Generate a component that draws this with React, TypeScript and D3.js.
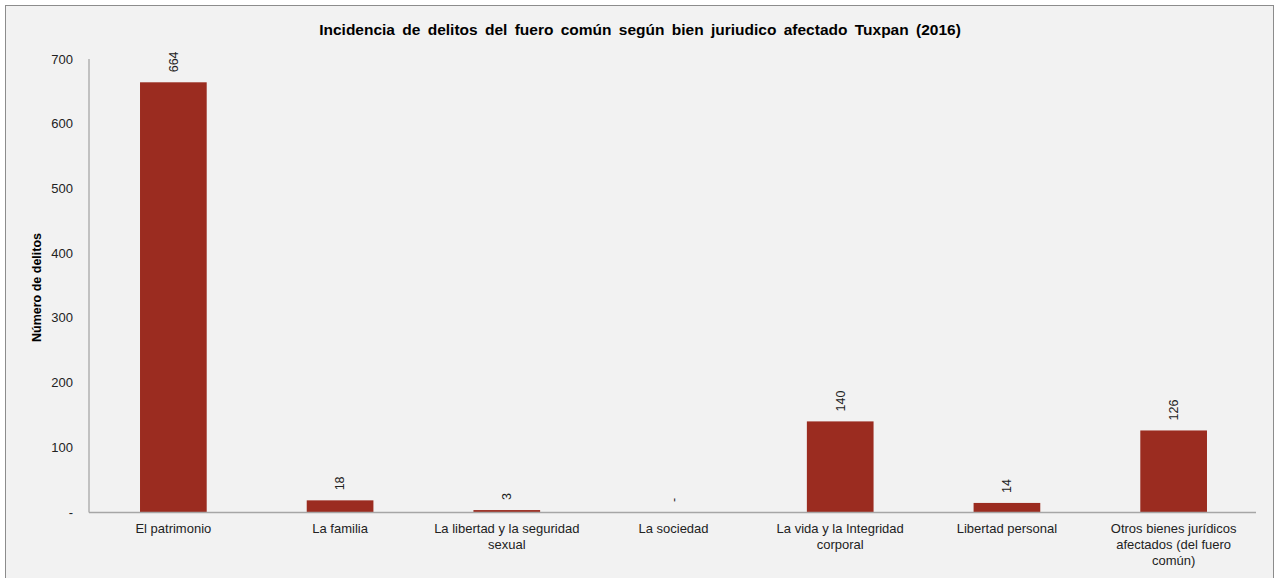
import React, { useEffect, useRef } from "react";
import * as d3 from "d3";

const categories = [
  "El patrimonio",
  "La familia",
  "La libertad y la seguridad sexual",
  "La sociedad",
  "La vida y la Integridad corporal",
  "Libertad personal",
  "Otros bienes jurídicos afectados (del fuero común)",
];
const values = [664, 18, 3, 0, 140, 14, 126];
const yTicks = [0, 100, 200, 300, 400, 500, 600, 700];
const title = "Incidencia de delitos del fuero común según bien juriudico afectado Tuxpan (2016)";
const yTitle = "Número de delitos";

const W = 1276;
const H = 578;
const FONT = "'Liberation Sans', Arial, sans-serif";

export default function App() {
  const ref = useRef<SVGSVGElement>(null);
  useEffect(() => {
    const svg = d3.select(ref.current);
    svg.selectAll("*").remove();
    svg.append("rect").attr("x", 0).attr("y", 0).attr("width", W).attr("height", H).attr("fill", "#ffffff");
    svg.append("rect").attr("x", 5.5).attr("y", 5.5).attr("width", 1268).attr("height", 580)
      .attr("fill", "#f2f2f2").attr("stroke", "#8c8c8c").attr("stroke-width", 1);

    const left = 89, right = 1256, top = 59, bottom = 512;
    const x = d3.scaleBand<string>().domain(categories).range([left, right]).paddingInner(0.6).paddingOuter(0.3);
    const y = d3.scaleLinear().domain([0, 700]).range([bottom, top]);

    svg.append("text").attr("x", 640).attr("y", 35).attr("text-anchor", "middle")
      .attr("font-family", FONT).attr("font-size", 15.5).attr("font-weight", "bold").attr("fill", "#000")
      .attr("word-spacing", 3).text(title);

    // y tick labels
    svg.append("g").selectAll("text").data(yTicks).join("text")
      .attr("x", 73).attr("y", d => y(d)).attr("dy", "0.35em").attr("text-anchor", "end")
      .attr("font-family", FONT).attr("font-size", 13).attr("fill", "#222")
      .text(d => (d === 0 ? "-" : String(d)));

    svg.append("text").attr("transform", `translate(41,${(top + bottom) / 2 + 2}) rotate(-90)`)
      .attr("text-anchor", "middle").attr("font-family", FONT).attr("font-size", 12.5).attr("font-weight", "bold")
      .attr("fill", "#000").text(yTitle);

    // bars
    svg.append("g").selectAll("rect").data(values).join("rect")
      .attr("x", (_, i) => x(categories[i])! + 1).attr("width", x.bandwidth())
      .attr("y", d => y(d)).attr("height", d => bottom - y(d)).attr("fill", "#9b2c20");

    // axes lines
    svg.append("line").attr("x1", left).attr("x2", left).attr("y1", top).attr("y2", bottom + 0.5)
      .attr("stroke", "#a6a6a6").attr("stroke-width", 1.3);
    svg.append("line").attr("x1", left).attr("x2", right).attr("y1", bottom + 0.5).attr("y2", bottom + 0.5)
      .attr("stroke", "#a6a6a6").attr("stroke-width", 1.3);

    // value labels
    svg.append("g").selectAll("text").data(values).join("text")
      .attr("transform", (d, i) => `translate(${x(categories[i])! + 1 + x.bandwidth() / 2},${y(d) - 10}) rotate(-90)`)
      .attr("dy", "0.35em").attr("text-anchor", "start")
      .attr("font-family", FONT).attr("font-size", 12.5).attr("fill", "#222")
      .text(d => (d === 0 ? "-" : String(d)));

    // x labels with wrapping
    const maxW = 156;
    categories.forEach((c, i) => {
      const cx = x(c)! + 1 + x.bandwidth() / 2;
      const t = svg.append("text").attr("x", cx).attr("y", 533).attr("text-anchor", "middle")
        .attr("font-family", FONT).attr("font-size", 13).attr("fill", "#222");
      const words = c.split(" ");
      let line: string[] = [];
      let ts = t.append("tspan").attr("x", cx).attr("dy", 0);
      for (const w of words) {
        line.push(w);
        ts.text(line.join(" "));
        if ((ts.node() as SVGTSpanElement).getComputedTextLength() > maxW && line.length > 1) {
          line.pop();
          ts.text(line.join(" "));
          line = [w];
          ts = t.append("tspan").attr("x", cx).attr("dy", 16).text(w);
        }
      }
    });
  }, []);
  return <svg ref={ref} width={W} height={H} style={{ display: "block", position: "absolute", left: 0, top: 0 }} />;
}
